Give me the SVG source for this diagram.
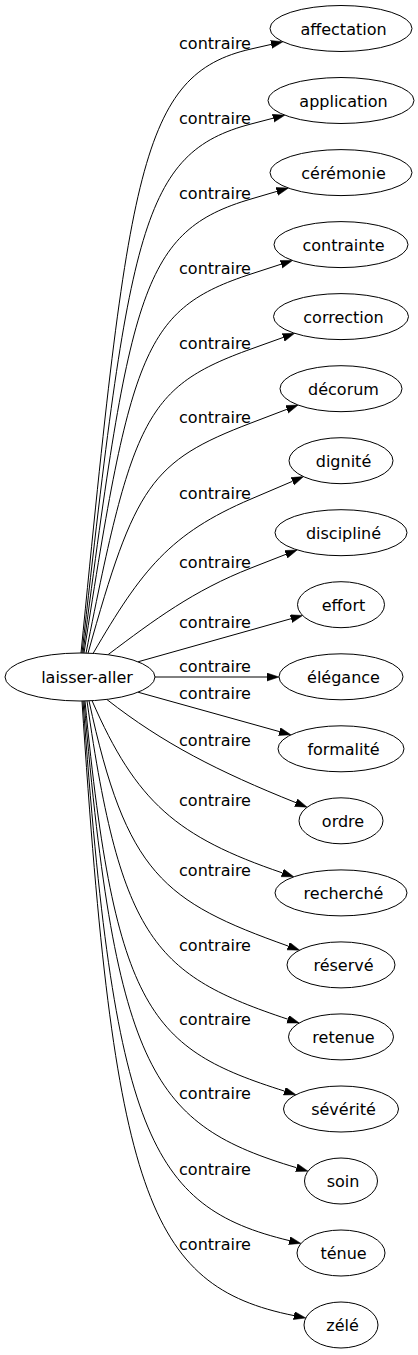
<svg xmlns="http://www.w3.org/2000/svg" width="418" height="1355" viewBox="0 0 418 1355">
<defs>
<style>
text{font-family:"DejaVu Sans",Verdana,sans-serif;font-size:16px;fill:#000;text-anchor:middle}
.node ellipse{fill:#fff;stroke:#000;stroke-width:1}
#edges path{fill:none;stroke:#000;stroke-width:1;marker-end:url(#ah)}
</style>
<marker id="ah" markerWidth="13" markerHeight="9" refX="0" refY="4" orient="auto" markerUnits="userSpaceOnUse"><path d="M0,0 L12,4 L0,8 z" fill="#000" stroke="#000" stroke-width="0.5"/></marker>
</defs>
<rect width="418" height="1355" fill="#fff"/>
<g id="edges">
<path d="M81,653 C128.6,169.8 139.9,74.3 251,49 L271.2,44.4"/>
<path d="M82,653 C129.3,229.8 141.5,152.6 251,124 L273.2,118.2"/>
<path d="M83,653 C130,289.8 143,230.7 251,199 L276.9,191.4"/>
<path d="M84,653 C130.8,349.8 144.6,308.7 251,274 L281.1,264.2"/>
<path d="M86,653.2 C132.6,416.9 146.7,386.6 251,349 L283.3,337.4"/>
<path d="M88,653.3 C134.9,485.2 151.1,461.1 251,423 L286.9,409.3"/>
<path d="M93,653.6 C141.9,569.6 169.9,533.6 251,499 L292.5,481.3"/>
<path d="M108,654.7 C154.5,619.7 193.5,590.5 251,568 L286,554.3"/>
<path d="M138,661.8 L291.1,618.7"/>
<path d="M155,677 L267,677"/>
<path d="M138,692.2 L279.4,731.6"/>
<path d="M107,699.6 C163.1,743.5 218.2,771.5 296,802.7"/>
<path d="M92,700.6 C136.3,802.2 176.5,836.8 282.4,872.9"/>
<path d="M89,700.8 C126.2,874.1 163.4,901.5 288.3,946.1"/>
<path d="M87,701 C120.8,940.7 155.8,975.2 287.8,1019.2"/>
<path d="M85,701 C114.9,1013 151.3,1048.9 284.5,1091.1"/>
<path d="M84,701 C115.9,1074.4 154,1125 296.5,1167.7"/>
<path d="M83,701 C113.9,1132.7 148.9,1206.9 289.3,1240.6"/>
<path d="M82,701 C113.8,1192.7 147,1286.2 294,1315.6"/>
<g id="edge-labels">
<text x="215" y="49">contraire</text>
<text x="215" y="124">contraire</text>
<text x="215" y="199">contraire</text>
<text x="215" y="274">contraire</text>
<text x="215" y="349">contraire</text>
<text x="215" y="423">contraire</text>
<text x="215" y="499">contraire</text>
<text x="215" y="568">contraire</text>
<text x="215" y="628">contraire</text>
<text x="215" y="672">contraire</text>
<text x="215" y="699">contraire</text>
<text x="215" y="746">contraire</text>
<text x="215" y="806">contraire</text>
<text x="215" y="876">contraire</text>
<text x="215" y="951">contraire</text>
<text x="215" y="1025">contraire</text>
<text x="215" y="1099">contraire</text>
<text x="215" y="1175">contraire</text>
<text x="215" y="1250">contraire</text>
</g>
</g>
<g id="laisser-aller" class="node"><ellipse cx="80" cy="677" rx="75" ry="24"/><text x="87" y="683">laisser-aller</text></g>
<g id="affectation" class="node"><ellipse cx="341" cy="28.5" rx="71" ry="23"/><text x="343.5" y="34.5">affectation</text></g>
<g id="application" class="node"><ellipse cx="341" cy="100.5" rx="73" ry="23"/><text x="343.5" y="106.5">application</text></g>
<g id="ceremonie" class="node"><ellipse cx="341" cy="172.6" rx="71" ry="23"/><text x="343.5" y="178.6">cérémonie</text></g>
<g id="contrainte" class="node"><ellipse cx="341" cy="244.6" rx="67" ry="23"/><text x="343.5" y="250.6">contrainte</text></g>
<g id="correction" class="node"><ellipse cx="341" cy="316.6" rx="67.5" ry="23"/><text x="343.5" y="322.6">correction</text></g>
<g id="decorum" class="node"><ellipse cx="341" cy="388.7" rx="61" ry="23"/><text x="343.5" y="394.7">décorum</text></g>
<g id="dignite" class="node"><ellipse cx="341" cy="460.7" rx="52" ry="23"/><text x="343.5" y="466.7">dignité</text></g>
<g id="discipline" class="node"><ellipse cx="341" cy="532.7" rx="66" ry="23"/><text x="343.5" y="538.7">discipliné</text></g>
<g id="effort" class="node"><ellipse cx="341" cy="604.7" rx="43.5" ry="23"/><text x="343.5" y="610.7">effort</text></g>
<g id="elegance" class="node"><ellipse cx="341" cy="676.8" rx="62" ry="23"/><text x="343.5" y="682.8">élégance</text></g>
<g id="formalite" class="node"><ellipse cx="341" cy="748.8" rx="63" ry="23"/><text x="343.5" y="754.8">formalité</text></g>
<g id="ordre" class="node"><ellipse cx="341" cy="820.8" rx="42" ry="23"/><text x="343" y="826.8">ordre</text></g>
<g id="recherche" class="node"><ellipse cx="341" cy="892.9" rx="66" ry="23"/><text x="343.5" y="898.9">recherché</text></g>
<g id="reserve" class="node"><ellipse cx="341" cy="964.9" rx="54" ry="23"/><text x="343.5" y="970.9">réservé</text></g>
<g id="retenue" class="node"><ellipse cx="341" cy="1036.9" rx="52.5" ry="23"/><text x="343.5" y="1042.9">retenue</text></g>
<g id="severite" class="node"><ellipse cx="341" cy="1109" rx="57.5" ry="23"/><text x="343.5" y="1115">sévérité</text></g>
<g id="soin" class="node"><ellipse cx="341" cy="1181" rx="36.5" ry="23"/><text x="343" y="1187">soin</text></g>
<g id="tenue" class="node"><ellipse cx="341" cy="1253" rx="44" ry="23"/><text x="343.5" y="1259">ténue</text></g>
<g id="zele" class="node"><ellipse cx="341" cy="1325" rx="37" ry="23"/><text x="342.5" y="1331">zélé</text></g>
</svg>
